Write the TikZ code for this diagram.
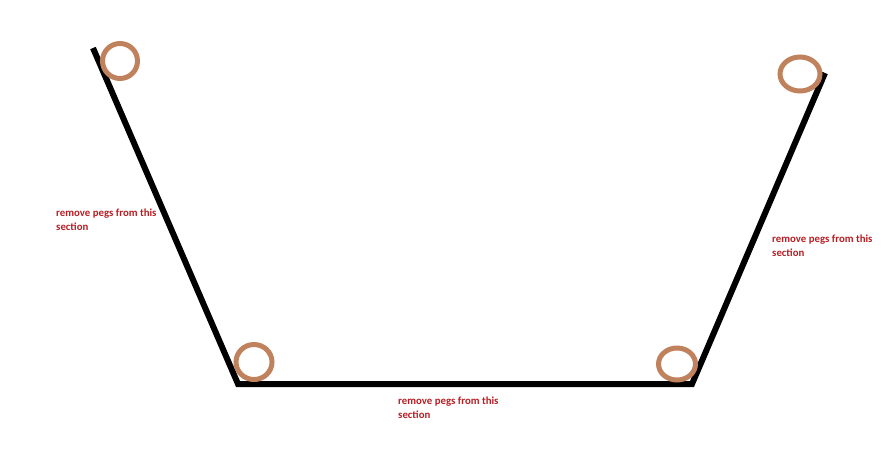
\documentclass[tikz,border=0pt]{standalone}
\usepackage{fontspec}
\setmainfont{Carlito}
\begin{document}
\begin{tikzpicture}[x=1pt,y=-1pt,
  wire/.style={line width=6pt,black,line join=miter},
  peg/.style={draw=pegbrown,line width=5pt},
  lbl/.style={text=lblred,font=\bfseries\fontsize{10.8}{13.5}\selectfont,align=left,anchor=north west,inner sep=0pt}]
\definecolor{pegbrown}{RGB}{192,130,92}
\definecolor{lblred}{RGB}{183,30,35}
\useasboundingbox (0,0) rectangle (890,453);
\coordinate (p1) at (93,48);
\coordinate (p2) at (238,384);
\coordinate (p3) at (692,384);
\coordinate (p4) at (825,73);
\draw[wire] (p1) -- (p2) -- (p3) -- (p4);
\draw[peg] (120,61) ellipse [x radius=17.5, y radius=17.5];
\draw[peg] (254,362) ellipse [x radius=18, y radius=17.5];
\draw[peg] (677,364) ellipse [x radius=18.5, y radius=16];
\draw[peg] (800,74) ellipse [x radius=20, y radius=17];
\node[lbl] (t1) at (56,209) {remove pegs from this\\section};
\node[lbl] (t2) at (772,235) {remove pegs from this\\section};
\node[lbl] (t3) at (398,397) {remove pegs from this\\section};
\end{tikzpicture}
\end{document}
